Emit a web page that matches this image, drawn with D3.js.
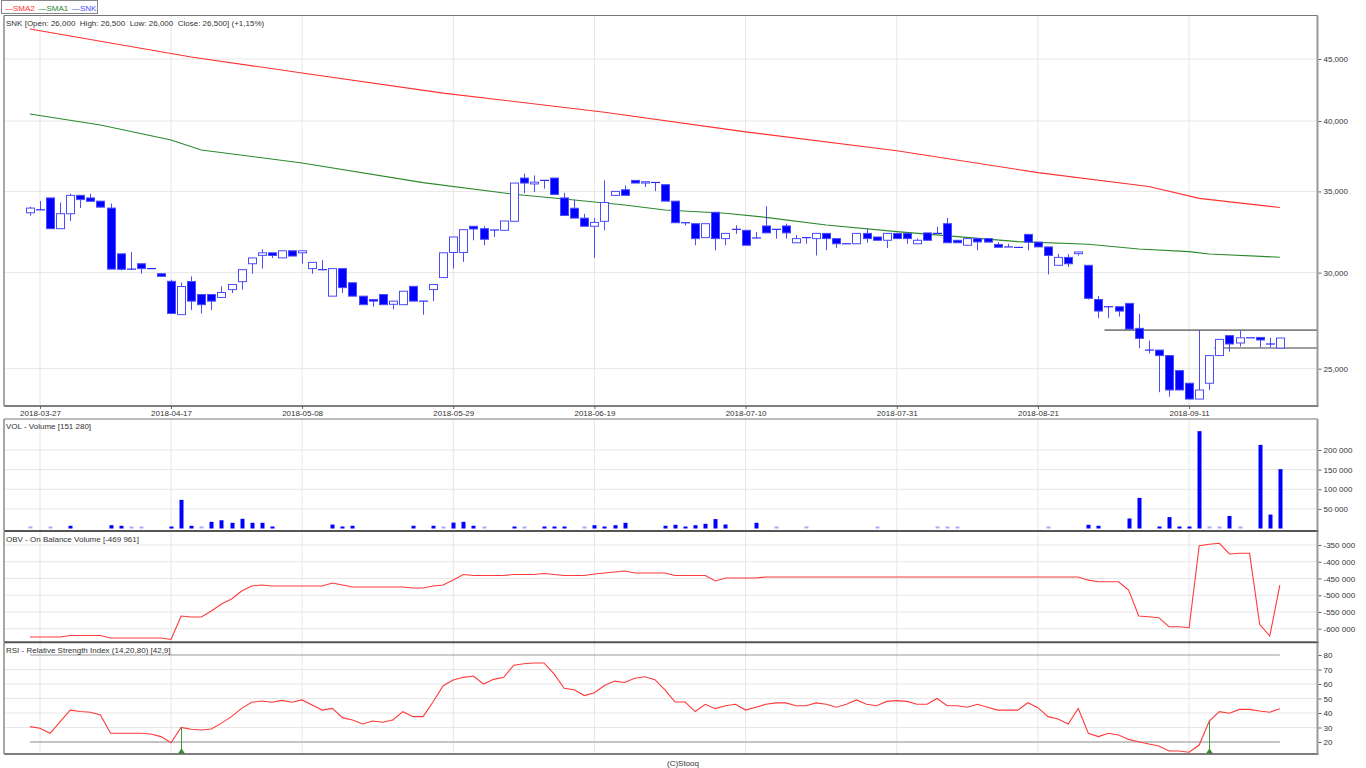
<!DOCTYPE html>
<html><head><meta charset="utf-8">
<script src="https://cdn.jsdelivr.net/npm/d3@7"></script>
<style>body{margin:0;background:#fff}svg{display:block}text{font-family:"Liberation Sans",Arial,sans-serif}</style>
</head><body><svg id="c" width="1366" height="768"></svg>
<script>
// ---------- DATA ----------
const firstDay = "2018-03-26", lastDay = "2018-09-24";
const holidays = ["2018-03-30","2018-04-02","2018-05-01","2018-05-03","2018-05-31","2018-08-15"];
const tickLabels = ["2018-03-27","2018-04-17","2018-05-08","2018-05-29","2018-06-19","2018-07-10","2018-07-31","2018-08-21","2018-09-11"];

const open = [33.61,33.80,34.57,32.61,33.55,34.74,34.57,34.36,33.91,31.09,
30.20,30.51,30.23,29.94,29.51,27.70,29.50,28.78,28.78,28.62,
29.05,29.49,30.51,31.00,31.15,30.85,31.27,31.15,30.23,30.17,
28.69,30.23,29.43,28.69,28.51,28.78,28.25,28.23,29.23,28.42,
29.05,29.72,31.17,31.17,32.76,32.61,32.53,32.51,33.07,35.90,
35.50,35.74,35.90,34.57,33.90,33.27,32.76,33.07,34.74,35.11,
35.74,35.56,35.60,35.45,34.36,32.98,32.92,32.06,33.64,32.00,
32.57,32.51,32.04,32.78,32.57,32.78,31.75,32.06,32.00,32.32,
32.00,31.69,31.69,32.32,32.10,31.90,32.32,32.32,31.69,32.35,
32.32,32.92,31.90,31.60,32.00,32.00,31.65,31.50,31.47,32.26,
31.79,31.50,30.42,30.88,31.10,30.42,28.51,28.12,28.12,28.30,
26.99,25.90,25.90,25.63,24.91,24.32,23.60,24.32,25.63,26.62,
26.25,26.51,26.53,26.20,26.00];
const high = [34.00,34.36,34.57,34.27,34.85,34.74,34.85,34.36,34.20,31.09,
31.19,30.51,30.23,29.94,29.60,29.45,29.79,28.78,28.78,29.23,
29.33,30.17,30.85,31.36,31.15,31.27,31.27,31.27,30.59,30.72,
30.23,30.23,29.43,28.69,28.51,28.78,28.42,28.96,29.23,28.42,
29.33,31.15,32.10,32.55,32.76,32.76,32.53,33.09,35.56,36.20,
36.08,35.74,35.90,34.91,34.46,33.54,33.27,35.74,35.00,35.40,
35.74,35.65,35.60,35.45,34.36,32.98,32.92,32.92,33.64,32.32,
32.82,32.51,32.40,34.03,32.57,32.92,32.22,32.06,32.32,32.32,
32.00,31.69,32.32,32.63,32.10,32.32,32.32,32.32,32.00,32.35,
32.74,33.28,31.90,32.00,32.00,32.00,31.79,31.69,31.47,32.26,
31.79,31.50,31.09,31.07,31.20,30.42,28.69,28.12,28.12,28.30,
27.74,26.37,25.90,25.63,24.91,24.32,26.90,25.63,26.43,26.62,
26.87,26.51,26.53,26.51,26.50];
const low = [33.42,33.80,32.61,32.61,33.09,33.91,34.35,33.97,30.20,30.13,
30.15,29.94,30.23,29.79,27.76,27.70,27.94,27.76,27.94,28.62,
28.86,29.05,29.94,30.23,30.85,30.85,30.96,30.51,29.94,30.17,
28.69,28.86,28.69,28.23,28.12,28.23,27.98,28.23,28.42,27.70,
28.42,29.72,30.23,30.62,31.90,31.60,32.10,32.51,33.07,34.89,
34.95,35.18,34.80,33.44,33.27,32.76,30.85,32.51,34.74,34.74,
35.56,35.29,35.02,34.36,32.98,32.82,31.60,32.06,31.30,31.60,
32.29,31.60,32.04,32.35,32.00,32.00,31.75,31.69,30.99,31.30,
31.44,31.69,31.69,31.75,31.90,31.44,32.00,31.69,31.69,31.90,
32.32,31.75,31.75,31.60,31.30,31.79,31.48,31.50,31.43,31.30,
31.50,29.90,30.42,30.32,30.99,28.51,27.52,27.52,27.60,26.95,
25.99,25.74,23.91,23.71,24.01,23.60,23.60,24.01,25.63,25.82,
26.07,26.51,26.03,26.03,26.00];
const close = [33.91,33.80,32.61,33.55,34.74,34.46,34.35,33.97,30.20,30.19,
30.20,30.23,30.23,29.79,27.76,29.22,28.42,28.23,28.42,28.89,
29.33,30.17,30.85,31.15,30.99,31.27,30.96,31.27,30.59,30.17,
30.23,29.16,28.69,28.23,28.42,28.23,28.42,28.96,28.42,28.42,
29.33,31.15,32.10,32.55,32.59,31.96,32.53,33.09,35.56,35.56,
35.62,35.74,34.80,33.44,33.27,32.76,33.00,34.27,35.00,34.74,
35.56,35.65,35.60,34.36,32.98,32.98,32.00,32.92,32.00,32.32,
32.57,31.60,32.04,32.35,32.57,32.35,32.00,32.06,32.32,32.00,
31.69,31.69,32.32,32.00,31.90,32.32,32.00,32.00,31.90,31.90,
32.32,31.75,31.75,32.00,31.80,31.79,31.48,31.50,31.47,31.79,
31.50,30.99,30.88,30.51,31.20,28.57,27.89,28.12,27.89,26.95,
26.48,25.90,25.63,24.01,24.01,23.60,24.01,25.63,26.43,26.20,
26.51,26.51,26.40,26.20,26.50];

const volume = [1500,0,1500,0,6900,0,0,0,8400,6900,
1500,1500,0,0,4300,73000,6900,1500,17000,21000,
14500,24700,14500,14500,5000,0,0,0,0,0,
10000,5000,7000,0,0,0,0,0,7000,0,
7000,1500,15000,17000,7000,1500,0,0,5000,1500,
0,5000,5000,5000,0,1500,8400,5000,8400,14500,
0,0,0,7000,9400,5000,8400,11900,24000,10200,
0,0,14500,0,1500,0,0,1500,0,0,
0,0,0,0,1500,0,0,0,0,0,
1500,1500,1500,0,0,0,0,0,0,0,
0,1500,0,0,0,9400,6900,0,0,25500,
78000,0,5000,29000,5000,5000,248000,1500,1500,32000,
1500,0,213000,35500,151280];

const obv = [-624790,-624790,-624790,-624790,-620310,-620310,-620310,-620310,-627780,-627780,
-627780,-627780,-627780,-627780,-632260,-562070,-565050,-565050,-547130,-526220,
-511290,-487400,-472460,-469470,-472460,-472460,-472460,-472460,-472460,-472460,
-463500,-469470,-475450,-475450,-475450,-475450,-475450,-475450,-478430,-478430,
-472460,-469470,-454540,-438110,-441100,-441100,-441100,-441100,-438110,-438110,
-438110,-435130,-438110,-441100,-441100,-441100,-436620,-433630,-430650,-427660,
-433630,-433630,-433630,-433630,-441100,-441100,-441100,-441100,-457530,-448570,
-448570,-448570,-448570,-445580,-445580,-445580,-445580,-445580,-445580,-445580,
-445580,-445580,-445580,-445580,-445580,-445580,-445580,-445580,-445580,-445580,
-445580,-445580,-445580,-445580,-445580,-445580,-445580,-445580,-445580,-445580,
-445580,-445580,-445580,-445580,-445580,-455000,-459620,-459620,-459620,-484410,
-562070,-564160,-567150,-594030,-594030,-597010,-352090,-347910,-344920,-376880,
-374790,-374790,-586860,-621800,-469961];

const rsi = [30.6,29.5,26,34,42,41,40.5,38.6,26,26,
26,26,25.5,23.7,19.5,30.1,28.8,28.3,29,33,
37.5,43.2,47.4,48.3,47.4,48.7,47.4,49,45.5,42,
43.2,36.8,35.2,32.4,34.5,33.6,35.2,40.9,37.5,37.5,
47.8,58.8,62.8,64.6,65.5,60,63.2,64.6,73,74,
74.5,74.5,67,57,56,52,54,59,62,61,
64,65,63,56,47.6,47.6,41,46,43,45,
46,42,44,46,47,47,45,45,47,46,
44,46,49,46,45,48,48.5,48,46,46,
50,45,45,44,46,44,42,42,42,47.1,
43.7,37.5,35.9,32.4,43.2,26,23.7,26,24.8,21.8,
20.2,18.6,17.2,13.8,13.8,12.9,17.9,34.5,40.9,39.8,
42.5,42.5,41.4,40.5,42.9];

const sma2Idx = [0,16,27,41,57,71,86,100,111,116,124];
const sma2Val = [47.64,45.17,43.82,42.18,40.68,39.19,37.81,36.27,35.33,34.54,33.95];
const sma1Idx = [0,7,14,17,27,39,48,53,59,63,69,73,79,86,92,98,105,110,115,117,124];
const sma1Val = [40.54,39.70,38.59,37.86,36.94,35.59,34.81,34.50,34.11,33.79,33.58,33.32,32.84,32.43,32.12,31.82,31.66,31.38,31.22,31.08,30.89];

const levelValues = [26.90, 26.00];
const levelFromIdx = [106.6, 117.5];

const priceTicks = [25, 30, 35, 40, 45];
const volTicks = [50000, 100000, 150000, 200000];
const obvTicks = [-600000, -550000, -500000, -450000, -400000, -350000];
const rsiTicks = [20, 30, 40, 50, 60, 70, 80];
const rsiBands = [20, 80];

// ---------- SETUP ----------
const loc = d3.formatLocale({decimal: ",", thousands: " ", grouping: [3], currency: ["", ""]});
const fPrice = loc.format(".3f"), fVol = loc.format(",d"), fPct = loc.format("+.2f"), fRsi = loc.format(".1f");
const fmtDay = d3.timeFormat("%Y-%m-%d"), parseDay = d3.timeParse("%Y-%m-%d");
const dates = d3.timeDays(parseDay(firstDay), d3.timeDay.offset(parseDay(lastDay), 1))
  .filter(d => d.getDay() % 6 !== 0).map(fmtDay).filter(s => !holidays.includes(s));
const N = dates.length;
const tickIdx = tickLabels.map(t => dates.indexOf(t));

const L = 4, R = 1317.5;
const x = d3.scaleLinear().domain([0, N - 1]).range([29.92, 1279.84]);
const P = {main: [15.5, 406], vol: [419, 530.5], obv: [531.5, 642.3], rsi: [643, 754]};
const yP = d3.scaleLog().domain([25, 45]).range([368.7, 59]);
const yV = d3.scaleLinear().domain([0, 200000]).range([528.5, 450]);
const yO = d3.scaleLinear().domain([-600000, -350000]).range([628.7, 545]);
const yR = d3.scaleLinear().domain([20, 80]).range([742, 655]);

const svg = d3.select("#c");
const TXT = "#333", GRID = "#e6e6e6";

// grids
Object.entries(P).forEach(([k, [t, b]]) => {
  svg.append("g").selectAll("line").data(tickIdx).join("line")
    .attr("x1", d => x(d)).attr("x2", d => x(d)).attr("y1", t).attr("y2", b)
    .attr("stroke", GRID).attr("stroke-width", 1);
});
function hgrid(ticks, y) {
  svg.append("g").selectAll("line").data(ticks).join("line")
    .attr("x1", L).attr("x2", R).attr("y1", d => y(d)).attr("y2", d => y(d))
    .attr("stroke", GRID).attr("stroke-width", 1);
}
hgrid(priceTicks, yP); hgrid(volTicks, yV); hgrid(obvTicks, yO);
hgrid(rsiTicks.filter(v => !rsiBands.includes(v)), yR);

// ---------- MAIN PANEL ----------
const sma2 = sma2Idx.map((d, i) => [d, sma2Val[i]]);
const sma1 = sma1Idx.map((d, i) => [d, sma1Val[i]]);
const lineP = d3.line().x(d => x(d[0])).y(d => yP(d[1]));
svg.append("path").attr("d", lineP(sma2)).attr("fill", "none").attr("stroke", "#ff3030").attr("stroke-width", 1.1);
svg.append("path").attr("d", lineP(sma1)).attr("fill", "none").attr("stroke", "#2a8a2a").attr("stroke-width", 1.1);

// level lines
svg.append("g").selectAll("line").data(levelValues).join("line")
  .attr("x1", (d, i) => x(levelFromIdx[i])).attr("x2", R)
  .attr("y1", d => yP(d)).attr("y2", d => yP(d))
  .attr("stroke", "#808080").attr("stroke-width", 1.6);

const candles = d3.range(N).map(i => ({i, o: open[i], h: high[i], l: low[i], c: close[i]}));
const CAND = "#4b4bff";
svg.append("g").selectAll("line").data(candles).join("line")
  .attr("x1", d => Math.round(x(d.i)) + 0.5).attr("x2", d => Math.round(x(d.i)) + 0.5)
  .attr("y1", d => yP(d.h)).attr("y2", d => yP(d.l))
  .attr("stroke", CAND).attr("stroke-width", 1);
svg.append("g").selectAll("rect").data(candles.filter(d => d.o !== d.c)).join("rect")
  .attr("x", d => Math.round(x(d.i)) - 3.5).attr("width", 8)
  .attr("y", d => yP(Math.max(d.o, d.c))).attr("height", d => Math.abs(yP(d.o) - yP(d.c)))
  .attr("fill", d => d.c < d.o ? "#0000ff" : "#ffffff")
  .attr("stroke", CAND).attr("stroke-width", 1);
svg.append("g").selectAll("line").data(candles.filter(d => d.o === d.c)).join("line")
  .attr("x1", d => Math.round(x(d.i)) - 4).attr("x2", d => Math.round(x(d.i)) + 5)
  .attr("y1", d => yP(d.c)).attr("y2", d => yP(d.c))
  .attr("stroke", "#2a2aff").attr("stroke-width", 1.2);

// ---------- VOLUME ----------
svg.append("g").selectAll("rect").data(d3.range(N).filter(i => volume[i] > 0)).join("rect")
  .attr("x", i => Math.round(x(i)) - 1.5).attr("width", 4)
  .attr("y", i => Math.min(yV(volume[i]), yV(0) - 2))
  .attr("height", i => Math.max(yV(0) - yV(volume[i]), 2))
  .attr("fill", i => (yV(0) - yV(volume[i])) < 1.5 ? "#a9a9ff" : "#0000ff");

// ---------- OBV ----------
svg.append("path").attr("d", d3.line().x((d, i) => x(i)).y(d => yO(d))(obv))
  .attr("fill", "none").attr("stroke", "#ff3a3a").attr("stroke-width", 1.1);

// ---------- RSI ----------
svg.append("g").selectAll("line").data(rsiBands).join("line")
  .attr("x1", x(0)).attr("x2", x(N - 1)).attr("y1", d => yR(d)).attr("y2", d => yR(d))
  .attr("stroke", d => d === 80 ? "#999" : "#c4c4c4").attr("stroke-width", d => d === 80 ? 1 : 2);
svg.append("path").attr("d", d3.line().x((d, i) => x(i)).y(d => yR(d))(rsi))
  .attr("fill", "none").attr("stroke", "#ff3a3a").attr("stroke-width", 1.1);
const signals = d3.range(1, N).filter(i => rsi[i - 1] < 20 && rsi[i] >= 20);
const sg = svg.append("g").selectAll("g").data(signals).join("g");
sg.append("line").attr("x1", i => Math.round(x(i)) + 0.5).attr("x2", i => Math.round(x(i)) + 0.5)
  .attr("y1", P.rsi[1] - 1).attr("y2", i => yR(rsi[i])).attr("stroke", "#3c9a3c").attr("stroke-width", 1);
sg.append("path").attr("d", i => {const cx = Math.round(x(i)) + 0.5, b = P.rsi[1] - 0.5; return `M${cx - 3.5},${b}L${cx + 3.5},${b}L${cx},${b - 5}Z`;})
  .attr("fill", "#2f8f2f");

// ---------- FRAMES / AXES ----------
const frame = svg.append("g");
function hl(y, x1, x2, c, w) { frame.append("line").attr("x1", x1).attr("x2", x2).attr("y1", y).attr("y2", y).attr("stroke", c).attr("stroke-width", w); }
function vl(xx, y1, y2, c, w) { frame.append("line").attr("x1", xx).attr("x2", xx).attr("y1", y1).attr("y2", y2).attr("stroke", c).attr("stroke-width", w); }
hl(P.main[0], L, R, "#777", 1);
hl(P.main[1], L, R + 1, "#555", 1.5);
hl(P.vol[0], L, R, "#777", 1);
hl(P.vol[1] + 0.5, L, R + 1, "#555", 2);
hl(P.obv[1], L, R + 1, "#555", 2);
hl(P.rsi[1], L, R + 1, "#555", 1.5);
[P.main, P.vol, P.obv, P.rsi].forEach(([t, b]) => { vl(L, t, b, "#8a8a8a", 1.5); vl(R, t, b, "#999", 2); });

function rightAxis(scale, ticks, fmt) {
  const g = svg.append("g").attr("transform", `translate(${R + 1},0)`)
    .call(d3.axisRight(scale).tickValues(ticks).tickFormat(fmt).tickSize(3).tickPadding(2));
  g.select(".domain").remove();
  g.selectAll(".tick line").attr("stroke", "#666");
  g.selectAll("text").attr("fill", TXT).attr("font-size", 8).attr("font-family", '"Liberation Sans",Arial,sans-serif');
}
rightAxis(yP, priceTicks.filter(v => v !== 25 || true), d => loc.format(",.0f")(d * 1000).replace(/ /g, ","));
rightAxis(yV, volTicks, fVol);
rightAxis(yO, obvTicks, d => fVol(d).replace("−", "-"));
rightAxis(yR, rsiTicks, d3.format("d"));

const xa = svg.append("g").attr("transform", `translate(0,${P.main[1]})`)
  .call(d3.axisBottom(x).tickValues(tickIdx).tickFormat(i => dates[i]).tickSize(3).tickPadding(1));
xa.select(".domain").remove();
xa.selectAll(".tick line").attr("stroke", "#666");
xa.selectAll("text").attr("fill", TXT).attr("font-size", 8).attr("font-family", '"Liberation Sans",Arial,sans-serif');

// ---------- TEXTS ----------
const last = N - 1;
const pct = (close[last] / close[last - 1] - 1) * 100;
const title = `SNK [Open: ${fPrice(open[last])}  High: ${fPrice(high[last])}  Low: ${fPrice(low[last])}  Close: ${fPrice(close[last])}] (${fPct(pct)}%)`;
function label(t, xx, y, c, anchor) {
  svg.append("text").attr("x", xx).attr("y", y).attr("font-size", 8).attr("fill", c || TXT)
    .attr("text-anchor", anchor || "start").attr("xml:space", "preserve").style("white-space", "pre").text(t);
}
label(title, 6, 26.4);
label(`VOL - Volume [${fVol(volume[last])}]`, 6, 429);
label(`OBV - On Balance Volume [${fVol(obv[last]).replace("−", "-")}]`, 6, 541.5);
label(`RSI - Relative Strength Index (14,20,80) [${fRsi(rsi[last])}]`, 6, 652.5);
label("(C)Stooq", 683, 765.5, TXT, "middle");

// legend
svg.append("rect").attr("x", 1.5).attr("y", 0.5).attr("width", 96).attr("height", 13).attr("fill", "#fff").attr("stroke", "#888");
const legend = [["—SMA2", "#ff3030"], ["—SMA1", "#2a8a2a"], ["—SNK", "#4b4bff"]];
const legX = [5, 38.5, 72];
legend.forEach(([t, c], i) => label(t, legX[i], 10.5, c));
</script></body></html>
